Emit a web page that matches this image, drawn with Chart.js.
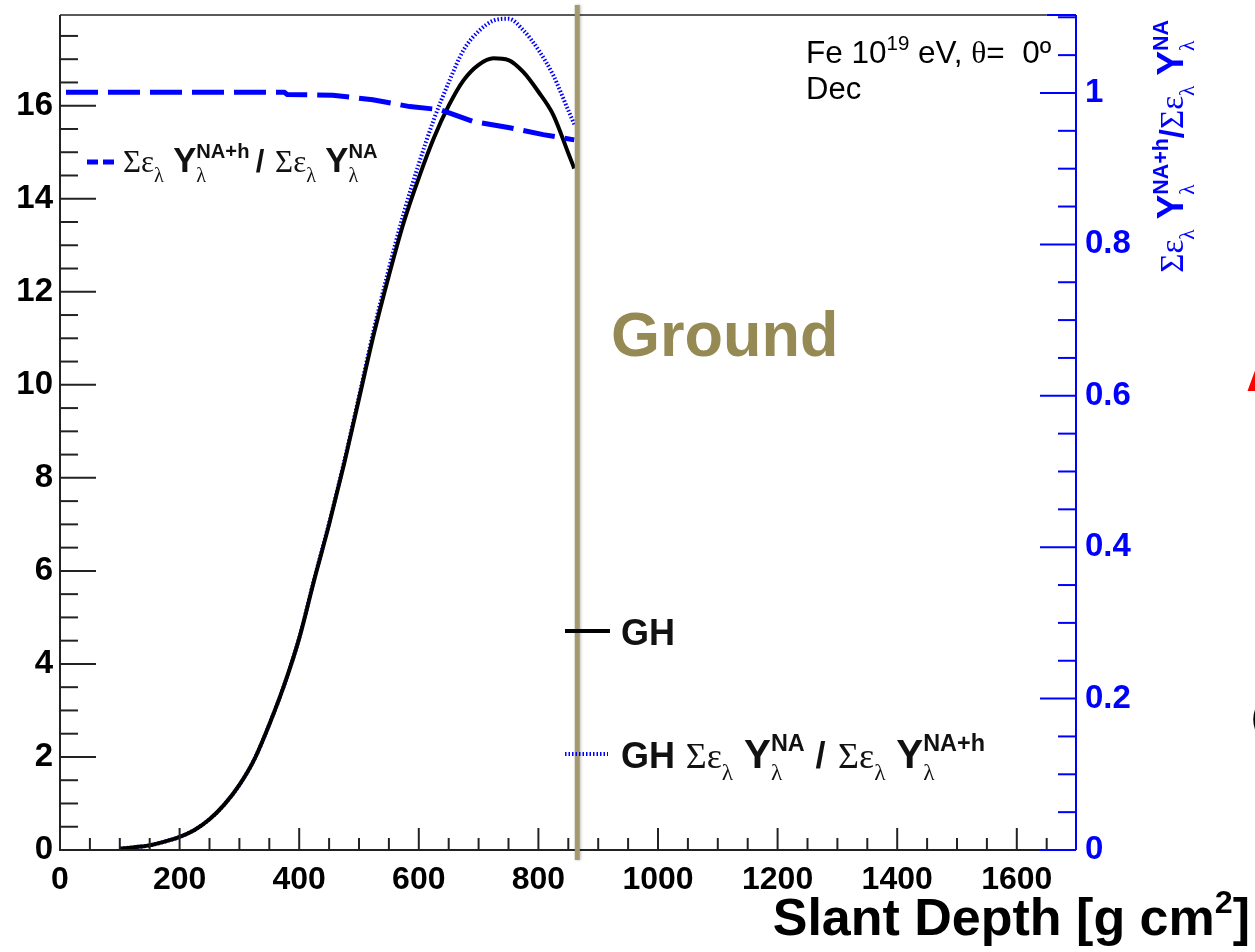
<!DOCTYPE html>
<html>
<head>
<meta charset="utf-8">
<script src="https://cdn.jsdelivr.net/npm/chart.js@4/dist/chart.umd.min.js"></script>
<style>
  html, body { margin: 0; padding: 0; background: #fff; }
  canvas { display: block; }
</style>
</head>
<body>
<canvas id="c" width="1255" height="952"></canvas>
<script>
// slant depth samples [g cm^-2] of the two GH profiles
const depth = [100, 125, 150, 175, 200, 225, 250, 275, 300, 325, 350, 375, 400, 425, 450, 475,
  500, 525, 550, 575, 600, 625, 650, 675, 700, 725, 750, 775, 800, 825, 850, 860];
// GH (black, left axis)
const ghValues = [0.03, 0.06, 0.10, 0.18, 0.28, 0.43, 0.66, 0.98, 1.40, 1.95, 2.70, 3.55, 4.55, 5.80, 7.00, 8.30,
  9.70, 11.10, 12.35, 13.50, 14.45, 15.30, 16.00, 16.55, 16.88, 17.02, 16.98, 16.72, 16.30, 15.80, 14.98, 14.65];
// GH * ratio^-1 (blue dotted, left axis)
const ghCorrValues = [0.03, 0.06, 0.10, 0.18, 0.28, 0.43, 0.66, 0.98, 1.40, 1.95, 2.70, 3.55, 4.56, 5.82, 7.03, 8.34,
  9.75, 11.20, 12.50, 13.70, 14.75, 15.70, 16.50, 17.20, 17.60, 17.83, 17.87, 17.62, 17.20, 16.65, 15.90, 15.60];
// yield ratio (blue dashed, right axis)
const ratioDepth = [10, 375, 380, 456, 523, 585, 635, 690, 752, 808, 860];
const ratioValues = [1.001, 1.001, 0.998, 0.997, 0.991, 0.982, 0.978, 0.9625, 0.954, 0.945, 0.938];

const xTicks = [0, 200, 400, 600, 800, 1000, 1200, 1400, 1600];
const leftTicks = [0, 2, 4, 6, 8, 10, 12, 14, 16];
const rightTicks = [0, 0.2, 0.4, 0.6, 0.8, 1];
const groundDepth = 865;
const xAxisEnd = 1650;

const BLUE = '#0000ff';

function fontOf(f, s) {
  if (f === 'serif') return s + 'px "Liberation Serif"';
  if (f === 'reg') return s + 'px "Liberation Sans"';
  return 'bold ' + s + 'px "Liberation Sans"';
}

// draws a run of text pieces (with sub/superscripts); returns width
function richText(ctx, x, y, parts, size, draw) {
  let cx = x;
  for (const p of parts) {
    if (p.gap) { cx += p.gap * size; continue; }
    if (p.sup !== undefined) {
      ctx.font = fontOf('bold', size * 0.65);
      const w1 = ctx.measureText(p.sup).width;
      if (draw) ctx.fillText(p.sup, cx, y - size * 0.46);
      ctx.font = fontOf('serif', size * 0.65);
      const w2 = ctx.measureText(p.sub).width;
      if (draw) ctx.fillText(p.sub, cx, y + size * 0.33);
      cx += Math.max(w1, w2);
    } else {
      const k = p.k || 1;
      ctx.font = fontOf(p.f, size * k);
      if (draw) ctx.fillText(p.t, cx, y + (p.dy || 0) * size);
      cx += ctx.measureText(p.t).width;
    }
  }
  return cx - x;
}

function term(sup) {
  return [{t: 'Σ', f: 'serif'}, {t: 'ε', f: 'serif'}, {t: 'λ', f: 'serif', k: 0.65, dy: 0.33},
    {gap: 0.3}, {t: 'Y', f: 'bold', k: 1.12}, {sup: sup, sub: 'λ'}];
}

const legendRatio = [...term('NA+h'), {gap: 0.2}, {t: '/', f: 'bold'}, {gap: 0.35}, ...term('NA')];
const legendCorr = [{t: 'GH', f: 'bold', k: 1.0}, {gap: 0.3}, ...term('NA'), {gap: 0.3}, {t: '/', f: 'bold'},
  {gap: 0.35}, ...term('NA+h')];
const rightTitle = [...term('NA+h'), {t: '/', f: 'bold'}, ...term('NA')];
const infoLine = [{t: 'Fe 10', f: 'reg'}, {t: '19', f: 'reg', k: 0.65, dy: -0.42}, {t: ' eV, ', f: 'reg'},
  {t: 'θ', f: 'serif'}, {t: '=  0º', f: 'reg'}];
const xTitle = [{t: 'Slant Depth [g cm', f: 'bold'}, {t: '2', f: 'bold', k: 0.62, dy: -0.42}, {t: ']', f: 'bold'}];

function seg(ctx, x1, y1, x2, y2) {
  ctx.beginPath(); ctx.moveTo(x1, y1); ctx.lineTo(x2, y2); ctx.stroke();
}

const rootAxes = {
  id: 'rootAxes',
  afterDraw(chart) {
    const {ctx, chartArea: a, scales} = chart;
    const x = scales.x, y = scales.y, y2 = scales.y2;
    const xe = x.getPixelForValue(xAxisEnd);
    ctx.save();

    // frame and axes
    ctx.lineWidth = 2;
    ctx.strokeStyle = '#222';
    seg(ctx, a.left, a.top, a.left, a.bottom + 1);
    seg(ctx, a.left, a.bottom, xe, a.bottom);
    ctx.lineWidth = 1.5;
    seg(ctx, a.left, a.top, xe, a.top);
    ctx.strokeStyle = BLUE;
    ctx.lineWidth = 2;
    seg(ctx, xe, a.bottom, a.right, a.bottom);
    seg(ctx, xe, a.top, a.right, a.top);
    seg(ctx, a.right, a.top, a.right, a.bottom);

    // x ticks (inward)
    ctx.strokeStyle = '#222';
    ctx.lineWidth = 2;
    for (let v = 0; v <= xAxisEnd; v += 50) {
      const px = x.getPixelForValue(v);
      const len = v % 200 === 0 ? 22 : 12;
      seg(ctx, px, a.bottom, px, a.bottom - len);
    }
    // left ticks
    for (let v = 0; v <= 17.5; v += 0.5) {
      const py = y.getPixelForValue(v);
      const len = v % 2 === 0 ? 36 : 18;
      seg(ctx, a.left, py, a.left + len, py);
    }
    // right ticks
    ctx.strokeStyle = BLUE;
    for (let i = 0; i <= 22; i++) {
      const v = i * 0.05;
      const py = y2.getPixelForValue(v);
      const len = i % 4 === 0 ? 36 : 18;
      seg(ctx, a.right, py, a.right - len, py);
    }

    // ground line
    const gx = x.getPixelForValue(groundDepth);
    ctx.shadowColor = 'rgba(0,0,0,0.25)';
    ctx.shadowBlur = 3;
    ctx.shadowOffsetX = 1;
    ctx.strokeStyle = '#a59a6f';
    ctx.lineWidth = 5;
    seg(ctx, gx, a.top - 10, gx, a.bottom + 10);
    ctx.shadowColor = 'transparent';

    ctx.fillStyle = '#968a54';
    ctx.font = 'bold 63px "Liberation Sans"';
    ctx.textBaseline = 'alphabetic';
    ctx.fillText('Ground', 611, 356);

    // legend: ratio
    ctx.strokeStyle = BLUE;
    ctx.lineWidth = 5;
    ctx.setLineDash([11, 5]);
    seg(ctx, 87, 162, 118, 162);
    ctx.setLineDash([]);
    ctx.fillStyle = '#111';
    richText(ctx, 123, 172, legendRatio, 31, true);

    // legend: GH
    ctx.strokeStyle = '#000';
    ctx.lineWidth = 4;
    seg(ctx, 565, 631, 610, 631);
    ctx.fillStyle = '#111';
    ctx.font = 'bold 36px "Liberation Sans"';
    ctx.fillText('GH', 621, 645);

    // legend: corrected GH
    ctx.strokeStyle = BLUE;
    ctx.lineWidth = 4;
    ctx.setLineDash([1.5, 2]);
    seg(ctx, 565, 754, 608, 754);
    ctx.setLineDash([]);
    richText(ctx, 621, 768, legendCorr, 36, true);

    // info text
    ctx.fillStyle = '#000';
    richText(ctx, 806, 63, infoLine, 31.5, true);
    ctx.font = fontOf('reg', 31);
    ctx.fillText('Dec', 806, 99);

    // x title
    const wt = richText(ctx, 0, 0, xTitle, 52, false);
    richText(ctx, 1250 - wt, 935, xTitle, 52, true);

    // right axis title (rotated)
    ctx.fillStyle = BLUE;
    const wr = richText(ctx, 0, 0, rightTitle, 33, false);
    ctx.save();
    ctx.translate(1183, 20 + wr);
    ctx.rotate(-Math.PI / 2);
    richText(ctx, 0, 0, rightTitle, 33, true);
    ctx.restore();

    // clipped fragments at the right edge
    ctx.fillStyle = '#ff0000';
    ctx.font = 'bold 60px "Liberation Sans"';
    ctx.fillText('A', 1246, 391);
    ctx.fillStyle = '#000';
    ctx.font = '36px "Liberation Sans"';
    ctx.fillText('(', 1251, 729);

    ctx.restore();
  }
};

function pts(xs, ys) { return xs.map((v, i) => ({x: v, y: ys[i]})); }

const tickFont = {family: '"Liberation Sans"', size: 33, weight: 'bold'};
const noPad = s => { s.paddingTop = 0; s.paddingBottom = 0; };

new Chart(document.getElementById('c'), {
  type: 'line',
  data: {
    datasets: [
      {
        label: 'ratio', data: pts(ratioDepth, ratioValues), yAxisID: 'y2',
        borderColor: BLUE, borderWidth: 5, borderDash: [32, 10], pointRadius: 0,
        tension: 0, order: 0
      },
      {
        label: 'GH', data: pts(depth, ghValues), yAxisID: 'y',
        borderColor: '#000', borderWidth: 4, pointRadius: 0,
        cubicInterpolationMode: 'monotone', order: 1
      },
      {
        label: 'GH corr', data: pts(depth, ghCorrValues), yAxisID: 'y',
        borderColor: BLUE, borderWidth: 4, borderDash: [1.5, 2], pointRadius: 0,
        cubicInterpolationMode: 'monotone', order: 2
      }
    ]
  },
  options: {
    responsive: false,
    animation: false,
    layout: {padding: {top: 15, left: 0, right: 0, bottom: 0}},
    plugins: {legend: {display: false}, tooltip: {enabled: false}},
    scales: {
      x: {
        type: 'linear', position: 'bottom', min: 0, max: 1699,
        grid: {display: false, drawTicks: false}, border: {display: false},
        afterBuildTicks: s => { s.ticks = xTicks.map(v => ({value: v})); },
        afterFit: s => { s.height = 102; s.paddingLeft = 0; s.paddingRight = 0; },
        ticks: {color: '#000', font: {family: '"Liberation Sans"', size: 32, weight: 'bold'}, padding: 11,
          autoSkip: false, maxRotation: 0, callback: v => String(v)}
      },
      y: {
        type: 'linear', position: 'left', min: 0, max: 17.95,
        grid: {display: false, drawTicks: false}, border: {display: false},
        afterBuildTicks: s => { s.ticks = leftTicks.map(v => ({value: v})); },
        afterFit: s => { s.width = 60; noPad(s); },
        ticks: {color: '#000', font: tickFont, padding: 7, autoSkip: false, callback: v => String(v)}
      },
      y2: {
        type: 'linear', position: 'right', min: 0, max: 1.103,
        grid: {display: false, drawTicks: false}, border: {display: false},
        afterBuildTicks: s => { s.ticks = rightTicks.map(v => ({value: v})); },
        afterFit: s => { s.width = 179; noPad(s); },
        ticks: {color: BLUE, font: {family: '"Liberation Sans"', size: 33, weight: 'bold'},
          padding: 9, autoSkip: false, callback: v => String(v)}
      }
    }
  },
  plugins: [rootAxes]
});
</script>
</body>
</html>
